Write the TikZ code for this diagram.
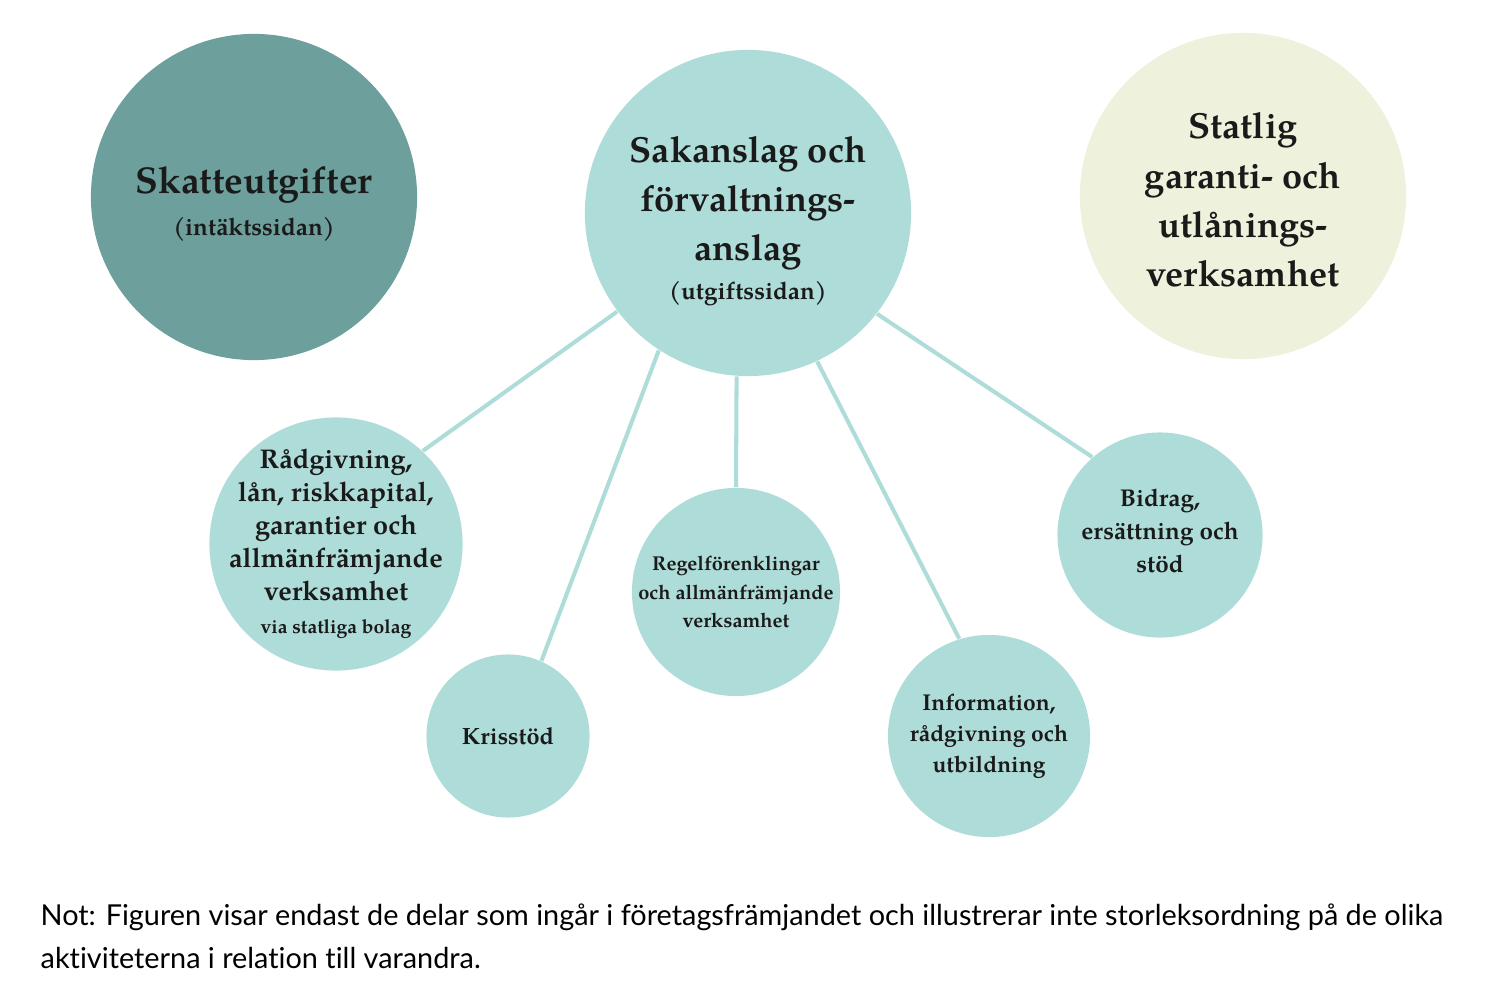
\documentclass[tikz,border=0pt]{standalone}
\usepackage{fontspec}
\setmainfont{TeX Gyre Pagella}
\newfontfamily\notefont[Ligatures=NoCommon]{Lato}
\definecolor{tealdark}{HTML}{6D9F9C}
\definecolor{teallight}{HTML}{AEDCD8}
\definecolor{creamy}{HTML}{EEF1DB}
\definecolor{inkdark}{HTML}{1A1A1A}
\tikzset{
  ball/.style={circle, inner sep=0pt},
  bigball/.style={ball, minimum size=3.26cm},
  smallball/.style={ball, fill=teallight},
  balltext/.style={inner sep=0pt, align=center, text=inkdark, font=\bfseries\fontsize{10.3}{14}\selectfont},
  spoke/.style={draw=teallight, line width=1.15pt}
}
\newcommand{\subline}[1]{{\fontsize{6.9}{10}\selectfont #1}}
\begin{document}
\begin{tikzpicture}[x=0.01cm,y=-0.01cm]
  \useasboundingbox[fill=white] (0,0) rectangle (1488,994);

  % The three big circles
  \node[bigball, fill=tealdark] (skatt) at (254,197) {};
  \node[bigball, fill=teallight] (sak) at (748,213) {};
  \node[bigball, fill=creamy] (statlig) at (1243,196) {};

  \node[balltext, font=\bfseries\fontsize{10.6}{14}\selectfont] (skatt-text) at (254,204)
    {Skatteutgifter\\[-2pt]\subline{(intäktssidan)}};
  \node[balltext] (sak-text) at (748,221)
    {Sakanslag och\\förvaltnings-\\anslag\\[-3pt]\subline{(utgiftssidan)}};
  \node[balltext] (statlig-text) at (1243,200)
    {Statlig\\garanti- och\\utlånings-\\verksamhet};

  % Activities
  \node[smallball, minimum size=2.53cm] (rad) at (336,544) {};
  \node[smallball, minimum size=1.63cm] (kris) at (508,736) {};
  \node[smallball, minimum size=2.08cm] (regel) at (736,592) {};
  \node[smallball, minimum size=2.02cm] (info) at (989,736) {};
  \node[smallball, minimum size=2.05cm] (bidrag) at (1160,535) {};

  \node[balltext, font=\bfseries\fontsize{7.7}{9.4}\selectfont] (rad-text) at (336,544)
    {Rådgivning,\\lån, riskkapital,\\garantier och\\allmänfrämjande\\verksamhet\\
     {\fontsize{5.5}{8}\selectfont via statliga bolag}};
  \node[balltext, font=\bfseries\fontsize{6.7}{9}\selectfont] (kris-text) at (kris) {Krisstöd};
  \node[balltext, font=\bfseries\fontsize{5.7}{8}\selectfont] (regel-text) at (736,592)
    {Regelförenklingar\\och allmänfrämjande\\verksamhet};
  \node[balltext, font=\bfseries\fontsize{6.5}{8.8}\selectfont] (info-text) at (989,736)
    {Information,\\rådgivning och\\utbildning};
  \node[balltext, font=\bfseries\fontsize{6.9}{9.4}\selectfont] (bidrag-text) at (1160,531)
    {Bidrag,\\ersättning och\\stöd};

  % Spokes
  \draw[spoke] (sak.217.4) -- (rad.47.5);
  \draw[spoke] (sak.237.9) -- (kris.66.4);
  \draw[spoke] (sak.266) -- (regel.90);
  \draw[spoke] (sak.295.2) -- (info.107.6);
  \draw[spoke] (sak.322.6) -- (bidrag.131.4);

  % Note
  \node[anchor=base west, inner sep=0pt, align=left, font=\notefont\fontsize{8.2}{12.2}\selectfont] (note) at (40,968)
    {Not: Figuren visar endast de delar som ingår i företagsfrämjandet och illustrerar inte storleksordning på de olika\\
     aktiviteterna i relation till varandra.};
\end{tikzpicture}
\end{document}
